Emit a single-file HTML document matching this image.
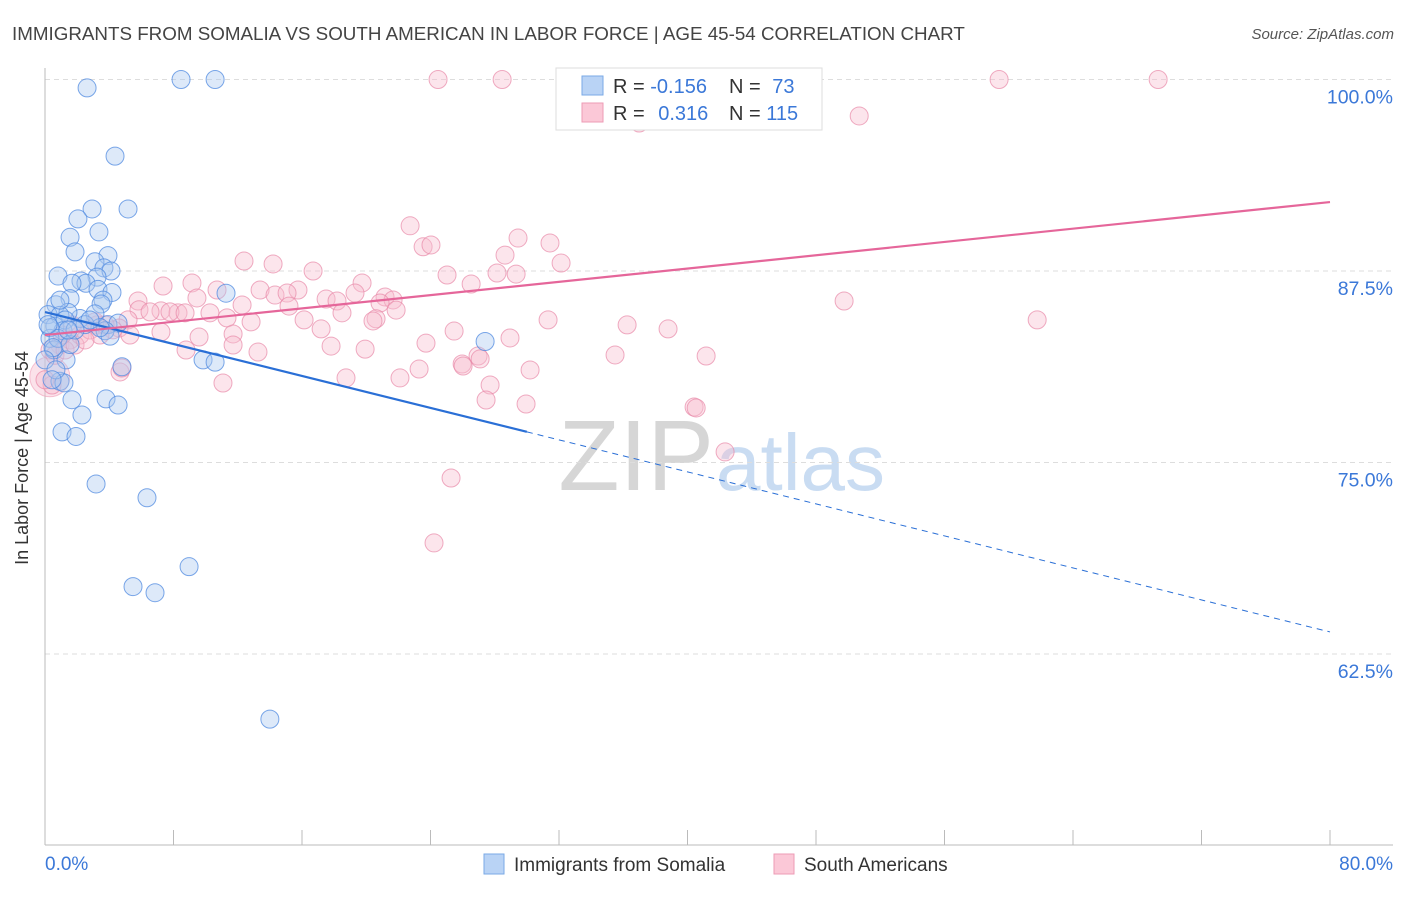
<!DOCTYPE html>
<html><head><meta charset="utf-8">
<style>
body{margin:0;background:#fff;font-family:"Liberation Sans",sans-serif;}
svg text{font-family:"Liberation Sans",sans-serif;}
</style></head>
<body>
<svg id="chart" width="1406" height="892" viewBox="0 0 1406 892" xmlns="http://www.w3.org/2000/svg">
<text x="12" y="40" font-size="18.8" fill="#444">IMMIGRANTS FROM SOMALIA VS SOUTH AMERICAN IN LABOR FORCE | AGE 45-54 CORRELATION CHART</text>
<text x="1394" y="39" font-size="15" fill="#555" font-style="italic" text-anchor="end">Source: ZipAtlas.com</text>
<text x="714" y="490" font-size="100" fill="#d6d6d6" text-anchor="end" font-family="Liberation Serif">ZIP</text>
<text x="716" y="490" font-size="80" fill="#c9dcf2">atlas</text>
<g id="grid"></g>
<g id="axes"></g>
<g id="pts"></g>
<g id="trends"></g>
<text x="28" y="458" font-size="18" fill="#333" text-anchor="middle" transform="rotate(-90 28 458)">In Labor Force | Age 45-54</text>
<text x="45" y="870" font-size="19" fill="#3b78d8">0.0%</text>
<text x="1393" y="870" font-size="19" fill="#3b78d8" text-anchor="end">80.0%</text>
<g>
<rect x="556" y="68" width="266" height="62" fill="#fff" stroke="#ddd"/>
<rect x="582" y="76" width="21" height="19" fill="#b9d3f5" stroke="#7aaae6"/>
<rect x="582" y="103" width="21" height="19" fill="#fbc8d7" stroke="#ee9bb6"/>
<text x="613" y="93" font-size="20" fill="#333">R = <tspan fill="#3b78d8">-0.156</tspan></text>
<text x="729" y="93" font-size="20" fill="#333">N = <tspan fill="#3b78d8" dx="6">73</tspan></text>
<text x="613" y="120" font-size="20" fill="#333">R = <tspan fill="#3b78d8" dx="8">0.316</tspan></text>
<text x="729" y="120" font-size="20" fill="#333">N = <tspan fill="#3b78d8">115</tspan></text>
</g>
<g>
<rect x="484" y="854" width="20" height="20" fill="#b9d3f5" stroke="#7aaae6"/>
<text x="514" y="871" font-size="19" fill="#333">Immigrants from Somalia</text>
<rect x="774" y="854" width="20" height="20" fill="#fbc8d7" stroke="#ee9bb6"/>
<text x="804" y="871" font-size="19" fill="#333">South Americans</text>
</g>
</svg>
<script>
const blueX=[2.62,8.47,10.59,4.36,5.17,2.93,2.05,1.56,3.36,3.92,3.11,1.87,3.67,4.11,0.81,3.24,2.24,2.55,1.68,3.30,4.17,11.27,1.56,0.68,3.61,3.49,2.18,1.43,3.11,0.19,0.93,0.62,1.25,3.92,4.55,3.74,4.05,3.42,2.49,1.12,0.31,0.56,1.31,27.4,9.84,10.59,4.79,0.93,1.18,3.80,4.55,1.68,2.30,1.06,1.93,3.18,6.35,5.48,6.85,8.97,14.0,0.31,0.81,0.5,0,1.56,2.8,1.87,0.93,0.19,0.68,0.44,1.43];
const blueY=[99.45,100,100,95.0,91.55,91.55,90.9,89.7,90.05,88.5,88.1,88.75,87.7,87.5,87.17,87.1,86.85,86.7,86.7,86.3,86.1,86.05,85.7,85.3,85.6,85.35,84.4,84.8,84.7,84.65,84.6,83.9,84.3,84.0,84.1,83.6,83.25,83.8,84.0,83.6,83.1,82.35,81.7,82.9,81.7,81.55,81.25,80.3,80.2,79.15,78.75,79.1,78.1,77.0,76.7,73.6,72.7,66.9,66.5,68.2,58.25,83.8,83.1,82.5,81.7,82.7,84.3,83.65,85.6,84.0,81.05,80.4,83.65];
const pinkX=[24.47,28.46,32.57,59.40,69.30,36.99,50.69,22.73,23.54,24.03,29.45,31.44,28.64,32.13,12.39,14.20,16.69,25.03,28.14,29.33,26.53,7.35,9.15,19.74,13.39,15.75,14.32,15.07,9.46,10.71,5.79,17.50,19.30,21.17,18.18,21.67,20.86,21.86,12.27,15.19,5.85,7.22,8.28,7.78,8.72,6.54,10.27,5.17,11.33,12.83,16.13,18.49,20.61,20.42,17.19,31.32,36.24,38.79,49.75,61.77,4.61,5.29,4.23,3.24,7.22,9.59,11.71,25.47,28.95,23.72,17.81,19.93,11.71,8.78,13.26,35.49,41.16,26.96,25.97,26.03,27.09,30.20,23.29,22.10,18.74,4.67,4.79,11.08,27.71,27.46,29.95,40.41,40.54,42.34,25.28,24.22,0.93,0.31,1.56,2.18,2.8,0.62,1.25,1.87,3.42,3.74,0.44,0,2.49,3.11,1.06,1.68];
const pinkY=[100,100,100,100,100,97.16,97.62,90.45,89.08,89.2,89.65,89.33,88.54,88.02,88.15,87.96,87.5,87.24,87.37,87.3,86.65,86.52,86.72,86.72,86.26,86.26,85.93,86.06,85.74,86.26,85.54,85.67,86.06,85.8,85.54,85.61,85.41,84.95,85.28,85.21,84.97,84.9,84.77,84.83,84.77,84.83,84.77,84.31,84.44,84.18,84.31,84.77,84.38,84.24,83.72,84.31,83.98,83.72,85.54,84.31,83.78,83.32,83.66,83.98,83.52,83.19,83.39,83.58,83.13,82.79,82.6,82.4,82.67,82.34,82.21,82.02,81.95,81.95,81.43,81.3,81.76,81.04,81.1,80.52,80.52,80.91,81.17,80.19,80.06,79.08,78.82,78.62,78.56,75.69,73.99,69.75,82.67,82.34,83.0,83.32,83.65,82.0,82.34,82.67,83.32,83.98,80.06,80.4,83.0,84.18,83.32,83.98];
const yTicks=[100,87.5,75,62.5];
const yTickLabels=["100.0%","87.5%","75.0%","62.5%"];
const xTicks=[0,8,16,24,32,40,48,56,64,72,80];
const blueTrend=[[0,84.82],[30,77.0],[80,63.94]];
const pinkTrend=[[0,83.32],[80,92.0]];
const big=[[0.3,80.6]];

const NS="http://www.w3.org/2000/svg";
const sx=v=>45+v*(1285/80);
const sy=v=>845.5-(v-50)*(766/50);
function mk(tag,attrs,parent){const e=document.createElementNS(NS,tag);for(const k in attrs)e.setAttribute(k,attrs[k]);document.getElementById(parent).appendChild(e);return e;}

yTicks.forEach((t,i)=>{
  const l=mk('line',{x1:45,x2:1393,y1:sy(t),y2:sy(t),stroke:'#ddd','stroke-dasharray':'5,4'},'grid');
  
  
  const tx=mk('text',{x:1393,y:sy(t)+24,'font-size':19.5,fill:'#3b78d8','text-anchor':'end'},'grid');
  tx.textContent=yTickLabels[i];
  
  
});
const ya=mk('line',{x1:45,x2:45,y1:68,y2:845,stroke:'#bbb'},'axes');


const xa=mk('line',{x1:45,x2:1393,y1:845,y2:845,stroke:'#bbb'},'axes');


xTicks.forEach(t=>{
  const l=mk('line',{x1:sx(t),x2:sx(t),y1:830,y2:845,stroke:'#bbb'},'axes');
  
  
});
big.forEach(p=>{
  const c=mk('circle',{cx:sx(p[0]),cy:sy(p[1]),r:20,fill:'#f7bfd0','fill-opacity':0.45,stroke:'#ee9bb6','stroke-opacity':0.6},'pts');
  
  
});
pinkX.forEach((x,i)=>{
  const c=mk('circle',{cx:sx(x),cy:sy(pinkY[i]),r:9,fill:'#f7bfd0','fill-opacity':0.4,stroke:'#e889a8','stroke-opacity':0.7,'stroke-width':1},'pts');
  
  
});
blueX.forEach((x,i)=>{
  const c=mk('circle',{cx:sx(x),cy:sy(blueY[i]),r:9,fill:'#a9c8f0','fill-opacity':0.4,stroke:'#4f8ae0','stroke-opacity':0.75,'stroke-width':1},'pts');
  
  
});
const b1=mk('line',{x1:sx(blueTrend[0][0]),y1:sy(blueTrend[0][1]),x2:sx(blueTrend[1][0]),y2:sy(blueTrend[1][1]),stroke:'#2a6fd6','stroke-width':2.2},'trends');


const b2=mk('line',{x1:sx(blueTrend[1][0]),y1:sy(blueTrend[1][1]),x2:sx(blueTrend[2][0]),y2:sy(blueTrend[2][1]),stroke:'#2a6fd6','stroke-width':1,'stroke-dasharray':'6,5'},'trends');


const p1=mk('line',{x1:sx(pinkTrend[0][0]),y1:sy(pinkTrend[0][1]),x2:sx(pinkTrend[1][0]),y2:sy(pinkTrend[1][1]),stroke:'#e5669a','stroke-width':2.2},'trends');


</script>
</body></html>
